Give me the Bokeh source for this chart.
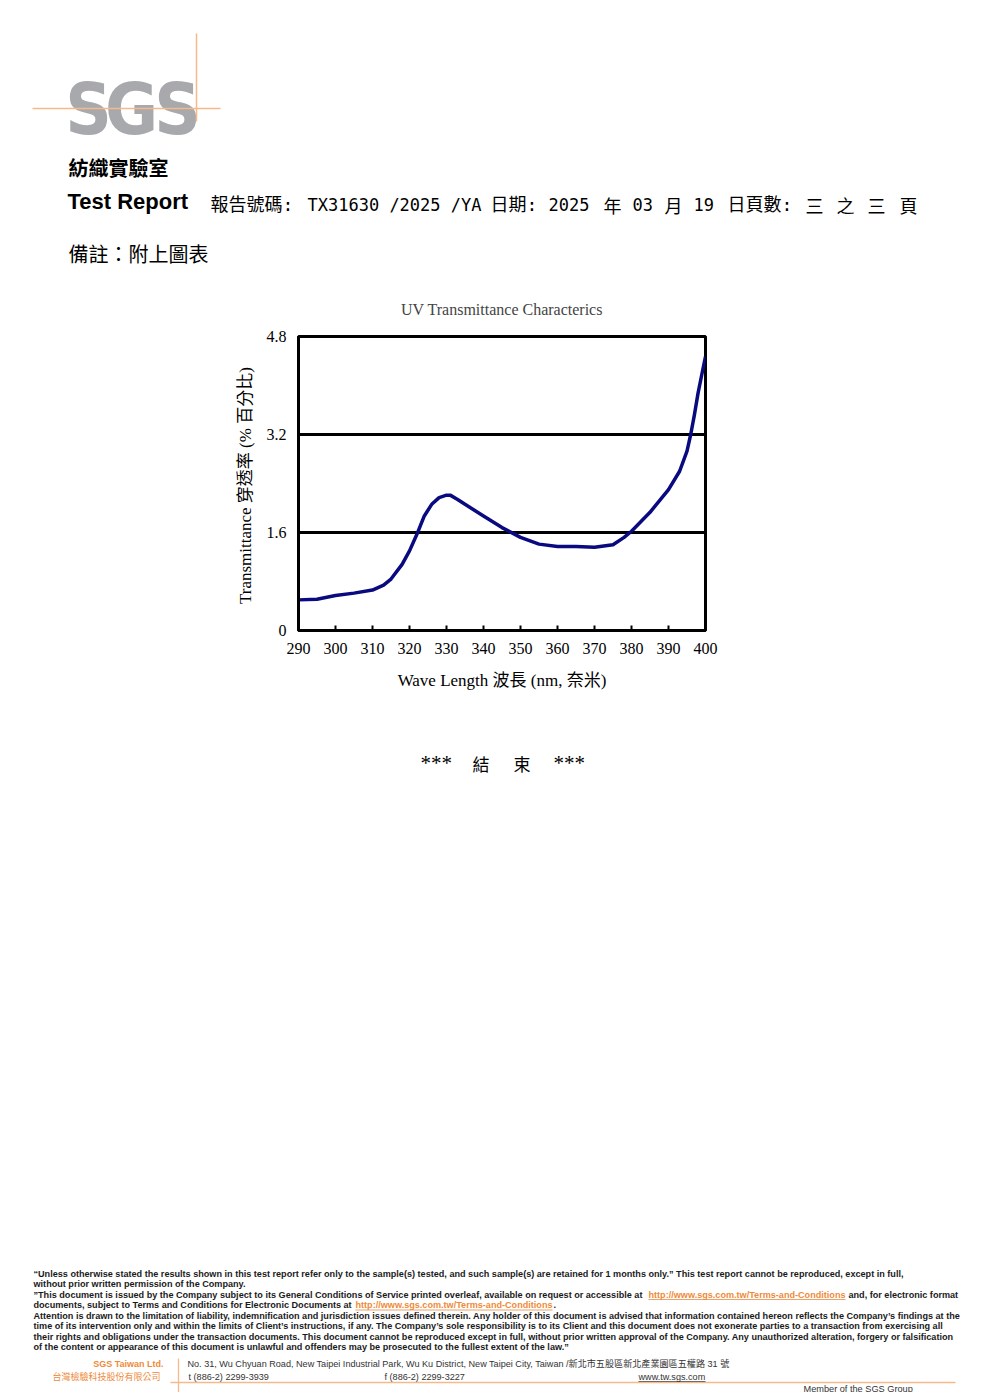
from bokeh.plotting import figure
from bokeh.models import Range1d, FixedTicker
from bokeh.core.properties import value
from bokeh.embed import file_html
from bokeh.resources import INLINE

# ---------------- data ----------------
wavelength = [290, 295, 300, 305, 310, 313, 315, 318, 320, 322, 324, 326, 328, 330, 331, 333,
              335, 340, 345, 350, 355, 360, 365, 370, 375, 378, 380, 385, 390, 393, 395, 396,
              397, 398, 399, 400]
transmittance = [0.50, 0.51, 0.57, 0.61, 0.66, 0.74, 0.84, 1.08, 1.30, 1.57, 1.87, 2.06, 2.17,
                 2.21, 2.21, 2.14, 2.06, 1.87, 1.68, 1.52, 1.41, 1.37, 1.37, 1.36, 1.40, 1.52,
                 1.62, 1.93, 2.30, 2.60, 2.93, 3.20, 3.52, 3.88, 4.18, 4.47]
x_ticks = [290, 300, 310, 320, 330, 340, 350, 360, 370, 380, 390, 400]
y_ticks = [0, 1.6, 3.2, 4.8]
y_tick_labels = ["0", "1.6", "3.2", "4.8"]
grid_values = [1.6, 3.2]

chart_title = "UV Transmittance Characterics"
x_label = "Wave Length 波長 (nm, 奈米)"
y_label = "Transmittance  穿透率 (% 百分比)"

SERIF = "Liberation Serif, Noto Sans CJK TC"
SANS = "Liberation Sans, Noto Sans CJK TC"
CJK = "Noto Sans CJK TC"
MONO = "DejaVu Sans Mono, Noto Sans CJK TC"
ORANGE_LINE = "#f5b98a"
ORANGE_TEXT = "#ee8a3a"
W = 992
H_TOTAL = 1392


def page_fig(h, y_top):
    f = figure(width=W, height=h, x_range=Range1d(0, W), y_range=Range1d(y_top + h, y_top),
               x_axis_type=None, y_axis_type=None, toolbar_location=None, output_backend="svg",
               min_border=0, outline_line_color=None)
    f.grid.visible = False
    f.background_fill_color = "white"
    f.border_fill_color = "white"
    return f


def txt(f, x, y, s, font, size, color="black", style="normal", align="left"):
    f.text(x=[x], y=[y], text=[s], text_font=value(font), text_font_size=value(size),
           text_color=color, text_font_style=style, text_align=align, text_baseline="middle")


# ---------------- header ----------------
H1 = 268
head = page_fig(H1, 0)
for cx, letter in [(88, "S"), (131, "G"), (177, "S")]:
    head.text(x=[cx], y=[108], text=[letter],
              text_font=value("Liberation Sans Narrow, DejaVu Sans Condensed, Liberation Sans"),
              text_font_size=value("72px"), text_font_style="bold", text_color="#a7a9ac",
              text_align="center", text_baseline="alphabetic")
head.segment(x0=[32], y0=[108], x1=[220], y1=[108], line_color=ORANGE_LINE, line_width=1.5)
head.segment(x0=[196], y0=[33], x1=[196], y1=[121], line_color=ORANGE_LINE, line_width=1.5)

txt(head, 68, 167, "紡織實驗室", CJK, "20px", style="bold")
txt(head, 67, 201, "Test Report", "Liberation Sans", "22px", style="bold")
txt(head, 210, 204, "報告號碼:", MONO, "18px")
txt(head, 307, 204, "TX31630 /2025 /YA", MONO, "17px")
txt(head, 490, 204, "日期:", MONO, "18px")
txt(head, 548, 204, "2025", MONO, "17px")
txt(head, 603, 204, "年", CJK, "18px")
txt(head, 632, 204, "03", MONO, "17px")
txt(head, 664, 204, "月", CJK, "18px")
txt(head, 693, 204, "19", MONO, "17px")
txt(head, 727, 204, "日頁數:", MONO, "18px")
for xx, ch in [(805, "三"), (836, "之"), (867, "三"), (899, "頁")]:
    txt(head, xx, 204, ch, CJK, "18px")
txt(head, 68, 253, "備註：附上圖表", CJK, "20px")

# ---------------- chart ----------------
H2 = 462
TOP = 336 - H1
p = figure(width=W, height=H2, x_range=Range1d(290, 400), y_range=Range1d(0, 4.8),
           toolbar_location=None, output_backend="svg",
           min_border_left=298, min_border_right=W - 298 - 407, min_border_top=TOP,
           min_border_bottom=H2 - TOP - 294, title=chart_title)
p.title.align = "center"
p.title.text_font = SERIF
p.title.text_font_size = "16px"
p.title.text_font_style = "normal"
p.title.standoff = 38
p.background_fill_color = "white"
p.border_fill_color = "white"
p.outline_line_color = "black"
p.outline_line_width = 3

p.line(wavelength, transmittance, line_color="#0a0a80", line_width=3.5, line_join="round")

p.xaxis.ticker = FixedTicker(ticks=x_ticks)
p.yaxis.ticker = FixedTicker(ticks=y_ticks)
p.yaxis.major_label_overrides = {t: l for t, l in zip(y_ticks, y_tick_labels)}
for ax in (p.xaxis[0], p.yaxis[0]):
    ax.axis_line_color = "black"
    ax.axis_line_width = 3
    ax.minor_tick_line_color = None
    ax.major_label_text_font = SERIF
    ax.major_label_text_font_size = "16px"
    ax.major_label_text_color = "black"
    ax.axis_label_text_font = SERIF
    ax.axis_label_text_font_size = "17px"
    ax.axis_label_text_font_style = "normal"
    ax.axis_label_text_color = "black"
p.xaxis.major_tick_in = 5
p.xaxis.major_tick_out = 0
p.xaxis.major_tick_line_width = 2
p.xaxis.major_tick_line_color = "black"
p.xaxis.major_label_standoff = 12
p.xaxis.axis_label = x_label
p.xaxis.axis_label_standoff = 14
p.yaxis.major_tick_in = 0
p.yaxis.major_tick_out = 0
p.yaxis.major_label_standoff = 12
p.yaxis.axis_label = y_label
p.yaxis.axis_label_standoff = 9
p.xgrid.visible = False
p.ygrid.ticker = FixedTicker(ticks=grid_values)
p.ygrid.grid_line_color = "black"
p.ygrid.grid_line_width = 3

# ---------------- footer ----------------
H3 = H_TOTAL - H1 - H2
foot = page_fig(H3, H1 + H2)
txt(foot, 420, 762, "***", "Liberation Serif", "21px")
txt(foot, 472, 763, "結", CJK, "17px")
txt(foot, 513, 763, "束", CJK, "17px")
txt(foot, 553, 762, "***", "Liberation Serif", "21px")

FS = "9.1px"
FCOL = "#1a1a1a"
lines = [
    "“Unless otherwise stated the results shown in this test report refer only to the sample(s) tested, and such sample(s) are retained for 1 months only.” This test report cannot be reproduced, except in full,",
    "without prior written permission of the Company.",
    None,
    None,
    "Attention is drawn to the limitation of liability, indemnification and jurisdiction issues defined therein. Any holder of this document is advised that information contained hereon reflects the Company’s findings at the",
    "time of its intervention only and within the limits of Client’s instructions, if any. The Company’s sole responsibility is to its Client and this document does not exonerate parties to a transaction from exercising all",
    "their rights and obligations under the transaction documents. This document cannot be reproduced except in full, without prior written approval of the Company. Any unauthorized alteration, forgery or falsification",
    "of the content or appearance of this document is unlawful and offenders may be prosecuted to the fullest extent of the law.”",
]
url = "http://www.sgs.com.tw/Terms-and-Conditions"
for i, s in enumerate(lines):
    y = 1273 + i * 10.5
    if s is not None:
        txt(foot, 33, y, s, "Liberation Sans", FS, color=FCOL, style="bold")
y3 = 1273 + 2 * 10.5
txt(foot, 33, y3, "”This document is issued by the Company subject to its General Conditions of Service printed overleaf, available on request or accessible at",
    "Liberation Sans", FS, color=FCOL, style="bold")
txt(foot, 648, y3, url, "Liberation Sans", FS, color=ORANGE_TEXT, style="bold")
foot.segment(x0=[648], y0=[y3 + 5], x1=[845], y1=[y3 + 5], line_color=ORANGE_TEXT, line_width=0.8)
txt(foot, 848, y3, "and, for electronic format", "Liberation Sans", FS, color=FCOL, style="bold")
y4 = 1273 + 3 * 10.5
txt(foot, 33, y4, "documents, subject to Terms and Conditions for Electronic Documents at",
    "Liberation Sans", FS, color=FCOL, style="bold")
txt(foot, 355, y4, url, "Liberation Sans", FS, color=ORANGE_TEXT, style="bold")
foot.segment(x0=[355], y0=[y4 + 5], x1=[552], y1=[y4 + 5], line_color=ORANGE_TEXT, line_width=0.8)
txt(foot, 553, y4, ".", "Liberation Sans", FS, color=FCOL, style="bold")

txt(foot, 163, 1363, "SGS Taiwan Ltd.", "Liberation Sans", "9px", color=ORANGE_TEXT, style="bold", align="right")
txt(foot, 160, 1376, "台灣檢驗科技股份有限公司", CJK, "9px", color=ORANGE_TEXT, align="right")
foot.segment(x0=[178], y0=[1358], x1=[178], y1=[1392], line_color=ORANGE_LINE, line_width=1.3)
foot.segment(x0=[170], y0=[1382], x1=[955], y1=[1382], line_color=ORANGE_LINE, line_width=1.3)
txt(foot, 187, 1363, "No. 31, Wu Chyuan Road, New Taipei Industrial Park, Wu Ku District, New Taipei City, Taiwan /新北市五股區新北產業園區五權路 31 號",
    SANS, "9.1px", color="#333333")
txt(foot, 188, 1376, "t (886-2) 2299-3939", "Liberation Sans", "9.1px", color="#333333")
txt(foot, 384, 1376, "f (886-2) 2299-3227", "Liberation Sans", "9.1px", color="#333333")
txt(foot, 638, 1376, "www.tw.sgs.com", "Liberation Sans", "9.1px", color="#333333")
foot.segment(x0=[638], y0=[1381], x1=[705], y1=[1381], line_color="#333333", line_width=0.7)
txt(foot, 803, 1388, "Member of the SGS Group", "Liberation Sans", "9.2px", color="#333333")

open("out.html", "w").write(file_html([head, p, foot], INLINE))
